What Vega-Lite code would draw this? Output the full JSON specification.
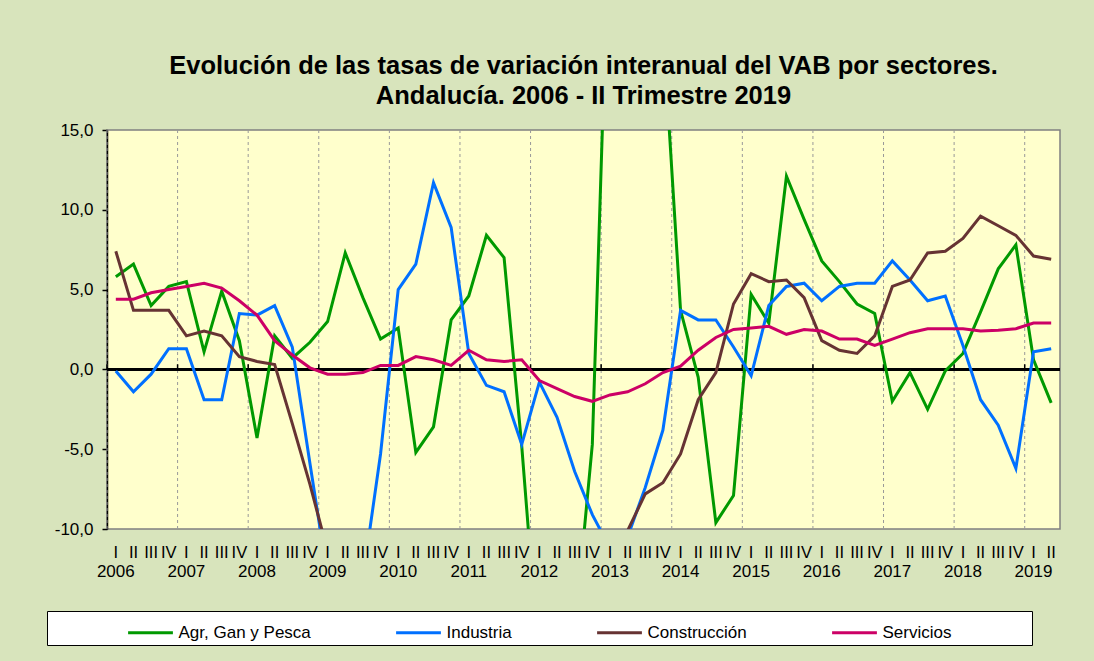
{
  "$schema": "https://vega.github.io/schema/vega-lite/v6.json",
  "width": 953,
  "height": 399,
  "autosize": {"type": "none"},
  "padding": {"left": 107, "top": 130, "right": 34, "bottom": 132},
  "background": "#D8E4BC",
  "title": {
    "text": ["Evolución de las tasas de variación interanual del VAB  por sectores.", "Andalucía.  2006 - II Trimestre 2019"],
    "fontSize": 25.5,
    "font": "Liberation Sans",
    "fontWeight": "bold",
    "color": "black",
    "anchor": "middle",
    "lineHeight": 30,
    "offset": 12
  },
  "config": {
    "view": {"fill": "#FFFFCC", "stroke": "#808080", "strokeWidth": 1.5},
    "font": "Liberation Sans"
  },
  "resolve": {"axis": {"x": "independent"}},
  "data": {
    "values": [
      {"t": "2006-I", "Agr, Gan y Pesca": 5.8, "Industria": -0.1, "Construcción": 7.4, "Servicios": 4.4},
      {"t": "2006-II", "Agr, Gan y Pesca": 6.6, "Industria": -1.4, "Construcción": 3.7, "Servicios": 4.4},
      {"t": "2006-III", "Agr, Gan y Pesca": 4.0, "Industria": -0.3, "Construcción": 3.7, "Servicios": 4.8},
      {"t": "2006-IV", "Agr, Gan y Pesca": 5.2, "Industria": 1.3, "Construcción": 3.7, "Servicios": 5.0},
      {"t": "2007-I", "Agr, Gan y Pesca": 5.5, "Industria": 1.3, "Construcción": 2.1, "Servicios": 5.2},
      {"t": "2007-II", "Agr, Gan y Pesca": 1.1, "Industria": -1.9, "Construcción": 2.4, "Servicios": 5.4},
      {"t": "2007-III", "Agr, Gan y Pesca": 4.9, "Industria": -1.9, "Construcción": 2.1, "Servicios": 5.1},
      {"t": "2007-IV", "Agr, Gan y Pesca": 1.8, "Industria": 3.5, "Construcción": 0.8, "Servicios": 4.3},
      {"t": "2008-I", "Agr, Gan y Pesca": -4.3, "Industria": 3.4, "Construcción": 0.5, "Servicios": 3.4},
      {"t": "2008-II", "Agr, Gan y Pesca": 2.1, "Industria": 4.0, "Construcción": 0.3, "Servicios": 1.8},
      {"t": "2008-III", "Agr, Gan y Pesca": 0.7, "Industria": 1.4, "Construcción": -3.4, "Servicios": 0.9},
      {"t": "2008-IV", "Agr, Gan y Pesca": 1.7, "Industria": -5.9, "Construcción": -7.2, "Servicios": 0.1},
      {"t": "2009-I", "Agr, Gan y Pesca": 3.0, "Industria": -13.0, "Construcción": -11.4, "Servicios": -0.3},
      {"t": "2009-II", "Agr, Gan y Pesca": 7.3, "Industria": -16.0, "Construcción": -14.0, "Servicios": -0.3},
      {"t": "2009-III", "Agr, Gan y Pesca": 4.5, "Industria": -13.1, "Construcción": -15.0, "Servicios": -0.2},
      {"t": "2009-IV", "Agr, Gan y Pesca": 1.9, "Industria": -5.3, "Construcción": -16.0, "Servicios": 0.25},
      {"t": "2010-I", "Agr, Gan y Pesca": 2.6, "Industria": 5.0, "Construcción": -14.0, "Servicios": 0.25},
      {"t": "2010-II", "Agr, Gan y Pesca": -5.2, "Industria": 6.6, "Construcción": -13.0, "Servicios": 0.8},
      {"t": "2010-III", "Agr, Gan y Pesca": -3.6, "Industria": 11.7, "Construcción": -12.0, "Servicios": 0.6},
      {"t": "2010-IV", "Agr, Gan y Pesca": 3.1, "Industria": 8.9, "Construcción": -12.0, "Servicios": 0.25},
      {"t": "2011-I", "Agr, Gan y Pesca": 4.6, "Industria": 1.0, "Construcción": -13.0, "Servicios": 1.2},
      {"t": "2011-II", "Agr, Gan y Pesca": 8.4, "Industria": -1.0, "Construcción": -14.0, "Servicios": 0.6},
      {"t": "2011-III", "Agr, Gan y Pesca": 7.0, "Industria": -1.4, "Construcción": -15.0, "Servicios": 0.5},
      {"t": "2011-IV", "Agr, Gan y Pesca": -4.8, "Industria": -4.7, "Construcción": -17.0, "Servicios": 0.6},
      {"t": "2012-I", "Agr, Gan y Pesca": -18.8, "Industria": -0.8, "Construcción": -18.0, "Servicios": -0.7},
      {"t": "2012-II", "Agr, Gan y Pesca": -20.0, "Industria": -3.0, "Construcción": -19.0, "Servicios": -1.2},
      {"t": "2012-III", "Agr, Gan y Pesca": -16.5, "Industria": -6.4, "Construcción": -18.0, "Servicios": -1.7},
      {"t": "2012-IV", "Agr, Gan y Pesca": -4.7, "Industria": -9.1, "Construcción": -16.0, "Servicios": -2.0},
      {"t": "2013-I", "Agr, Gan y Pesca": 30.0, "Industria": -11.2, "Construcción": -14.0, "Servicios": -1.6},
      {"t": "2013-II", "Agr, Gan y Pesca": 35.0, "Industria": -10.5, "Construcción": -10.1, "Servicios": -1.4},
      {"t": "2013-III", "Agr, Gan y Pesca": 28.0, "Industria": -7.4, "Construcción": -7.8, "Servicios": -0.9},
      {"t": "2013-IV", "Agr, Gan y Pesca": 21.4, "Industria": -3.8, "Construcción": -7.1, "Servicios": -0.2},
      {"t": "2014-I", "Agr, Gan y Pesca": 3.7, "Industria": 3.7, "Construcción": -5.3, "Servicios": 0.2},
      {"t": "2014-II", "Agr, Gan y Pesca": -0.5, "Industria": 3.1, "Construcción": -1.9, "Servicios": 1.2},
      {"t": "2014-III", "Agr, Gan y Pesca": -9.6, "Industria": 3.1, "Construcción": -0.2, "Servicios": 2.0},
      {"t": "2014-IV", "Agr, Gan y Pesca": -7.9, "Industria": 1.4, "Construcción": 4.1, "Servicios": 2.5},
      {"t": "2015-I", "Agr, Gan y Pesca": 4.7, "Industria": -0.4, "Construcción": 6.0, "Servicios": 2.6},
      {"t": "2015-II", "Agr, Gan y Pesca": 2.9, "Industria": 4.0, "Construcción": 5.5, "Servicios": 2.7},
      {"t": "2015-III", "Agr, Gan y Pesca": 12.1, "Industria": 5.2, "Construcción": 5.6, "Servicios": 2.2},
      {"t": "2015-IV", "Agr, Gan y Pesca": 9.4, "Industria": 5.4, "Construcción": 4.5, "Servicios": 2.5},
      {"t": "2016-I", "Agr, Gan y Pesca": 6.8, "Industria": 4.3, "Construcción": 1.8, "Servicios": 2.4},
      {"t": "2016-II", "Agr, Gan y Pesca": 5.5, "Industria": 5.2, "Construcción": 1.2, "Servicios": 1.9},
      {"t": "2016-III", "Agr, Gan y Pesca": 4.1, "Industria": 5.4, "Construcción": 1.0, "Servicios": 1.9},
      {"t": "2016-IV", "Agr, Gan y Pesca": 3.5, "Industria": 5.4, "Construcción": 2.1, "Servicios": 1.5},
      {"t": "2017-I", "Agr, Gan y Pesca": -2.0, "Industria": 6.8, "Construcción": 5.2, "Servicios": 1.9},
      {"t": "2017-II", "Agr, Gan y Pesca": -0.2, "Industria": 5.6, "Construcción": 5.6, "Servicios": 2.3},
      {"t": "2017-III", "Agr, Gan y Pesca": -2.5, "Industria": 4.3, "Construcción": 7.3, "Servicios": 2.55},
      {"t": "2017-IV", "Agr, Gan y Pesca": -0.1, "Industria": 4.6, "Construcción": 7.4, "Servicios": 2.55},
      {"t": "2018-I", "Agr, Gan y Pesca": 1.0, "Industria": 1.5, "Construcción": 8.2, "Servicios": 2.55},
      {"t": "2018-II", "Agr, Gan y Pesca": 3.6, "Industria": -1.9, "Construcción": 9.6, "Servicios": 2.4},
      {"t": "2018-III", "Agr, Gan y Pesca": 6.3, "Industria": -3.5, "Construcción": 9.0, "Servicios": 2.45},
      {"t": "2018-IV", "Agr, Gan y Pesca": 7.8, "Industria": -6.2, "Construcción": 8.4, "Servicios": 2.55},
      {"t": "2019-I", "Agr, Gan y Pesca": 0.6, "Industria": 1.1, "Construcción": 7.1, "Servicios": 2.9},
      {"t": "2019-II", "Agr, Gan y Pesca": -2.1, "Industria": 1.3, "Construcción": 6.9, "Servicios": 2.9}
    ]
  },
  "layer": [
    {
      "transform": [{"filter": "split(datum.t, '-')[1] == 'I'"}],
      "mark": {"type": "rule", "color": "#999999", "strokeDash": [3, 3], "strokeWidth": 1},
      "encoding": {
        "x": {
          "field": "t",
          "type": "ordinal",
          "sort": "ascending",
          "bandPosition": 0,
          "axis": {
            "orient": "bottom",
            "title": null,
            "labelExpr": "split(datum.value, '-')[1] == 'I' ? split(datum.value, '-')[0] : ''",
            "labelFontSize": 17,
            "labelColor": "black",
            "labelPadding": 34,
            "labelOverlap": false,
            "labelBound": false,
            "labelFlush": false,
            "labelAngle": 0,
            "ticks": false,
            "domain": false,
            "grid": false
          }
        }
      }
    },
    {
      "mark": {"type": "rule", "color": "black", "strokeWidth": 1.5},
      "encoding": {"y": {"datum": 0, "type": "quantitative"}}
    },
    {
      "transform": [{"filter": "split(datum.t, '-')[1] == 'I'"}],
      "mark": {"type": "rule", "color": "black", "strokeWidth": 1.5},
      "encoding": {
        "x": {"field": "t", "type": "ordinal", "sort": "ascending", "bandPosition": 0, "axis": null},
        "y": {"datum": 0, "type": "quantitative"},
        "y2": {"datum": 0.32}
      }
    },
    {
      "transform": [{"fold": ["Agr, Gan y Pesca", "Industria", "Construcción", "Servicios"], "as": ["sector", "v"]}],
      "mark": {"type": "line", "strokeWidth": 3, "clip": true},
      "encoding": {
        "x": {
          "field": "t",
          "type": "ordinal",
          "sort": "ascending",
          "bandPosition": 0.5,
          "scale": {"type": "band", "paddingInner": 0, "paddingOuter": 0},
          "axis": {
            "orient": "bottom",
            "title": null,
            "labelExpr": "split(datum.value, '-')[1]",
            "labelFontSize": 16.5,
            "labelColor": "black",
            "labelPadding": 15,
            "labelOverlap": false,
            "labelBound": false,
            "labelFlush": false,
            "labelAngle": 0,
            "ticks": false,
            "domain": false,
            "grid": false
          }
        },
        "y": {
          "field": "v",
          "type": "quantitative",
          "scale": {"domain": [-10, 15], "nice": false, "zero": false},
          "axis": {
            "title": null,
            "values": [-10, -5, 0, 5, 10, 15],
            "labelExpr": "(datum.value < 0 ? '-' : '') + replace(format(abs(datum.value), '.1f'), '.', ',')",
            "labelFontSize": 17,
            "labelColor": "black",
            "labelPadding": 9,
            "domainColor": "black",
            "domainWidth": 1.5,
            "tickColor": "black",
            "tickSize": 5,
            "tickWidth": 1.5,
            "gridColor": "#999999",
            "gridDash": [3, 3],
            "gridWidth": 1
          }
        },
        "color": {
          "field": "sector",
          "type": "nominal",
          "scale": {
            "domain": ["Agr, Gan y Pesca", "Industria", "Construcción", "Servicios"],
            "range": ["#009900", "#0070FF", "#663333", "#CC0066"]
          },
          "legend": {
            "orient": "none",
            "legendX": -60,
            "legendY": 481,
            "direction": "horizontal",
            "columns": 4,
            "title": "\u00a0",
            "titleOrient": "left",
            "titlePadding": 82,
            "symbolType": "M-1.4,0H1.4",
            "symbolSize": 1024,
            "symbolStrokeWidth": 3,
            "labelFontSize": 17,
            "labelColor": "black",
            "labelOffset": 10.5,
            "labelLimit": 400,
            "labelExpr": "datum.label == 'Servicios' ? 'Servicios\u00a0\u00a0\u00a0\u00a0\u00a0\u00a0\u00a0\u00a0\u00a0\u00a0\u00a0\u00a0\u00a0\u00a0\u00a0\u00a0\u200b' : datum.label",
            "columnPadding": 79,
            "fillColor": "white",
            "strokeColor": "black",
            "padding": 4
          }
        }
      }
    }
  ]
}
